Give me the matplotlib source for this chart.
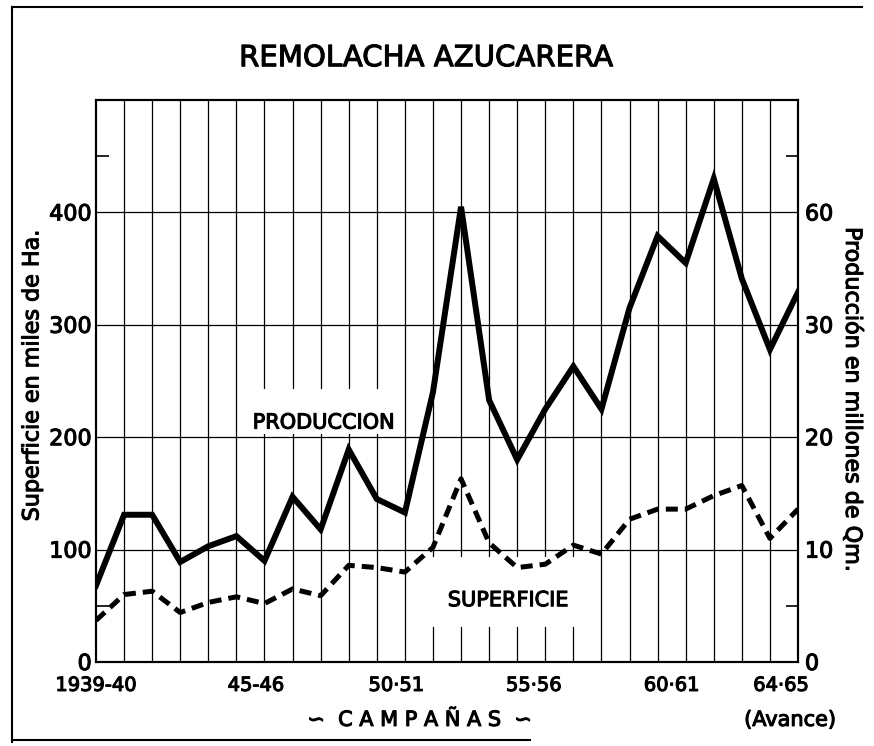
import matplotlib
matplotlib.use('Agg')
import matplotlib.pyplot as plt
import matplotlib.patheffects as pe
from matplotlib import font_manager
from matplotlib.patches import Rectangle
from matplotlib.lines import Line2D
import numpy as np

# Campañas 1939-40 .. 1964-65
seasons = ['1939-40', '40-41', '41-42', '42-43', '43-44', '44-45', '45-46',
           '46-47', '47-48', '48-49', '49-50', '50-51', '51-52', '52-53',
           '53-54', '54-55', '55-56', '56-57', '57-58', '58-59', '59-60',
           '60-61', '61-62', '62-63', '63-64', '64-65']

# Produccion en millones de Qm (eje derecho)
produccion = [6.8, 13.1, 13.1, 8.9, 10.3, 11.2, 9.0, 14.7, 11.8, 18.9, 14.5, 13.3,
              24.0, 40.5, 23.3, 18.0, 22.5, 26.3, 22.5, 31.5, 37.9, 35.5, 43.0,
              34.1, 27.8, 32.9]

# Superficie en miles de Ha (eje izquierdo)
superficie = [37, 60, 63, 44, 53, 58, 52, 65, 59, 86, 84, 80, 102, 163, 106, 84,
              87, 104, 96, 127, 136, 136, 148, 157, 110, 136]

x_labels = ['1939-40', '45-46', '50·51', '55·56', '60·61', '64·65']
x_label_pos = [0, 5.7, 10.7, 15.6, 20.5, 24.4]
left_ticks = [0, 100, 200, 300, 400]
right_ticks = [0, 10, 20, 30, 40]
right_labels = ['0', '10', '20', '30', '60']

names = {f.name for f in font_manager.fontManager.ttflist}
if 'Liberation Sans Narrow' in names:
    narrow, narrow_size = 'Liberation Sans Narrow', 18
else:
    narrow, narrow_size = 'DejaVu Sans', 14

plt.rcParams['font.family'] = ['DejaVu Sans']

# slightly heavier strokes, like the printed lettering
ink = [pe.withStroke(linewidth=0.8, foreground='black')]

fig = plt.figure(figsize=(8.74, 7.46), dpi=100)
ax = fig.add_axes([96 / 874, 84 / 746, 702 / 874, 562 / 746])
ax2 = ax.twinx()

x = np.arange(len(seasons))

ax.set_xlim(0, len(seasons) - 1)
ax.set_ylim(0, 500)
ax2.set_ylim(0, 50)

# grid: one vertical line per campaña, horizontal every 100
for xi in x[1:-1]:
    ax.axvline(xi, color='black', lw=0.9, zorder=1)
for yi in left_ticks[1:]:
    ax.axhline(yi, color='black', lw=0.9, zorder=1)

# white patches behind the series labels
ax.add_patch(Rectangle((5.3, 203), 5.5, 40, facecolor='white', edgecolor='none', zorder=2))
ax.add_patch(Rectangle((11.7, 31), 6.2, 62, facecolor='white', edgecolor='none', zorder=2))

ax.plot(x, superficie, color='black', lw=3.6, linestyle=(0, (2.4, 1.4)),
        dash_capstyle='butt', zorder=4)
ax2.plot(x, produccion, color='black', lw=4.3, solid_joinstyle='miter', zorder=4)

ax.text(8.1, 213, 'PRODUCCION', fontsize=15, ha='center', va='center', zorder=3,
        path_effects=ink)
ax.text(14.67, 55, 'SUPERFICIE', fontsize=15, ha='center', va='center', zorder=3,
        path_effects=ink)

ax.set_xticks(x_label_pos)
ax.set_xticklabels(x_labels, fontfamily=narrow, fontsize=narrow_size)
ax.tick_params(axis='x', length=0, pad=10)

ax.set_yticks(left_ticks)
ax.set_yticklabels([str(v) for v in left_ticks], fontsize=16)
ax.set_yticks([50, 450], minor=True)
ax.tick_params(axis='y', which='major', length=0, pad=3)
ax.tick_params(axis='y', which='minor', direction='in', length=9, width=1.2)

ax2.set_yticks(right_ticks)
ax2.set_yticklabels(right_labels, fontsize=16)
ax2.set_yticks([5, 45], minor=True)
ax2.tick_params(axis='y', which='major', length=0, pad=5)
ax2.tick_params(axis='y', which='minor', direction='in', length=9, width=1.2)

for lbl in ax.get_xticklabels() + ax.get_yticklabels() + ax2.get_yticklabels():
    lbl.set_path_effects(ink)

for a in (ax, ax2):
    for s in a.spines.values():
        s.set_linewidth(1.5)

fig.text(0.487, 0.922, 'REMOLACHA AZUCARERA', fontsize=21, ha='center', va='center',
         path_effects=ink)
fig.text(0.037, 0.497, 'Superficie en miles de Ha.', fontsize=16, rotation=90,
         ha='center', va='center', path_effects=ink)
fig.text(0.975, 0.464, 'Producción en millones de Qm.', fontsize=16, rotation=270,
         ha='center', va='center', path_effects=ink)
fig.text(0.48, 0.035, '∽  C A M P A Ñ A S  ∽', fontsize=15, ha='center', va='center',
         path_effects=ink)
fig.text(0.904, 0.035, '(Avance)', fontsize=15, ha='center', va='center',
         path_effects=ink)

# page border of the scan
fig.add_artist(Line2D([12 / 874, 12 / 874], [0.005, 0.99], color='black', lw=1.5))
fig.add_artist(Line2D([12 / 874, 862 / 874], [0.99, 0.99], color='black', lw=1.5))
fig.add_artist(Line2D([12 / 874, 530 / 874], [0.008, 0.008], color='black', lw=1.5))

fig.savefig('out.png', dpi=100)
